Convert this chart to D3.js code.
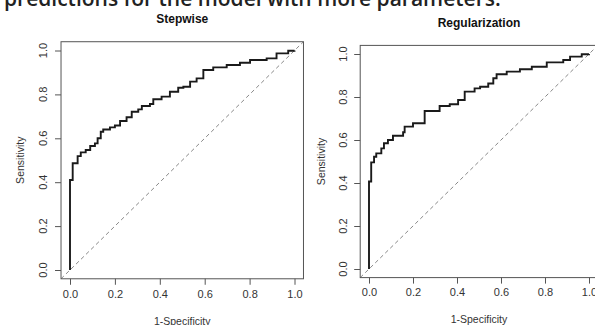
<!DOCTYPE html>
<html>
<head>
<meta charset="utf-8">
<script src="https://cdn.jsdelivr.net/npm/d3@7"></script>
<style>
  html, body { margin: 0; padding: 0; background: #fff; }
  svg { display: block; }
  text { font-family: "Liberation Sans", Arial, sans-serif; }
</style>
</head>
<body>
<svg id="chart" width="595" height="325"></svg>
<script>
// ---------- data ----------
const headerText = "predictions for the model with more parameters.";
const panelTitles = ["Stepwise", "Regularization"];
const xLabel = "1-Specificity";
const yLabel = "Sensitivity";
const tickValues = [0, 0.2, 0.4, 0.6, 0.8, 1.0];
const tickLabels = ["0.0", "0.2", "0.4", "0.6", "0.8", "1.0"];

// ROC vertices (1-specificity, sensitivity), drawn as steps
const stepwiseFPR = [0, 0, 0.012, 0.034, 0.048, 0.07, 0.09, 0.111, 0.123, 0.137, 0.148, 0.178, 0.2, 0.223, 0.252, 0.275, 0.304, 0.32, 0.356, 0.371, 0.408, 0.445, 0.482, 0.505, 0.535, 0.564, 0.594, 0.638, 0.698, 0.757, 0.802, 0.876, 0.92, 0.972, 1];
const stepwiseTPR = [0, 0.41, 0.486, 0.519, 0.536, 0.547, 0.565, 0.577, 0.6, 0.63, 0.64, 0.65, 0.658, 0.679, 0.696, 0.721, 0.732, 0.747, 0.756, 0.778, 0.79, 0.812, 0.83, 0.835, 0.858, 0.873, 0.911, 0.923, 0.934, 0.944, 0.957, 0.964, 0.987, 0.999, 1];

const regFPR = [0, 0, 0.01, 0.023, 0.033, 0.056, 0.068, 0.086, 0.109, 0.155, 0.162, 0.2, 0.253, 0.253, 0.321, 0.367, 0.405, 0.435, 0.48, 0.505, 0.542, 0.565, 0.58, 0.626, 0.686, 0.74, 0.808, 0.883, 0.914, 0.967, 1];
const regTPR = [0, 0.407, 0.496, 0.522, 0.538, 0.561, 0.585, 0.6, 0.62, 0.636, 0.662, 0.678, 0.685, 0.735, 0.758, 0.766, 0.786, 0.825, 0.84, 0.848, 0.863, 0.887, 0.906, 0.918, 0.929, 0.941, 0.961, 0.972, 0.988, 0.999, 1];

// ---------- layout ----------
const svg = d3.select("#chart");

svg.append("text")
  .attr("x", 4).attr("y", 5.5)
  .style("font-family", "'Open Sans', sans-serif")
  .style("font-weight", 600)
  .style("font-size", "21px")
  .attr("fill", "#222")
  .text(headerText);

const panels = [
  { title: panelTitles[0], fpr: stepwiseFPR, tpr: stepwiseTPR,
    x0: 70, x1: 294.5, y0: 270, y1: 50.5, titleY: 22.5, yLabX: 20.5, xLabY: 324.5, tickLabX: 47 },
  { title: panelTitles[1], fpr: regFPR, tpr: regTPR,
    x0: 369, x1: 589, y0: 269, y1: 54, titleY: 27, yLabX: 321, xLabY: 322.5, tickLabX: 347 }
];

panels.forEach((p, i) => {
  const x = d3.scaleLinear().domain([0, 1]).range([p.x0, p.x1]);
  const y = d3.scaleLinear().domain([0, 1]).range([p.y0, p.y1]);
  const bx0 = x(-0.04), bx1 = x(1.04), by0 = y(-0.04), by1 = y(1.04);
  const g = svg.append("g");
  const clipId = "clip" + i;
  g.append("clipPath").attr("id", clipId).append("rect")
    .attr("x", bx0).attr("y", by1).attr("width", bx1 - bx0).attr("height", by0 - by1);

  // diagonal reference
  g.append("line")
    .attr("clip-path", `url(#${clipId})`)
    .attr("x1", x(-0.04)).attr("y1", y(-0.04))
    .attr("x2", x(1.04)).attr("y2", y(1.04))
    .attr("stroke", "#888").attr("stroke-width", 1)
    .attr("stroke-dasharray", "4,3");

  // ROC curve
  const pts = p.fpr.map((f, k) => [f, p.tpr[k]]);
  g.append("path")
    .datum(pts)
    .attr("clip-path", `url(#${clipId})`)
    .attr("fill", "none")
    .attr("stroke", "#1a1a1a")
    .attr("stroke-width", 1.9)
    .attr("stroke-linejoin", "miter")
    .attr("d", d3.line().x(d => x(d[0])).y(d => y(d[1])).curve(d3.curveStepAfter));

  // box
  g.append("rect")
    .attr("x", bx0).attr("y", by1).attr("width", bx1 - bx0).attr("height", by0 - by1)
    .attr("fill", "none").attr("stroke", "#555").attr("stroke-width", 1);

  // x axis
  const xAxis = d3.axisBottom(x).tickValues(tickValues)
    .tickFormat((d, k) => tickLabels[k]).tickSize(6).tickSizeOuter(0).tickPadding(5);
  const xa = g.append("g").attr("transform", `translate(0,${by0})`).call(xAxis);
  xa.select(".domain").remove();
  xa.selectAll(".tick line").attr("stroke", "#555");
  xa.selectAll(".tick text").attr("fill", "#333")
    .style("font-family", "'Liberation Sans', Arial, sans-serif").style("font-size", "11px");

  // y axis
  const yAxis = d3.axisLeft(y).tickValues(tickValues)
    .tickFormat((d, k) => tickLabels[k]).tickSize(6).tickSizeOuter(0);
  const ya = g.append("g").attr("transform", `translate(${bx0},0)`).call(yAxis);
  ya.select(".domain").remove();
  ya.selectAll(".tick line").attr("stroke", "#555");
  ya.selectAll(".tick text").remove();
  g.selectAll(".ylab").data(tickValues).enter().append("text")
    .attr("transform", d => `translate(${p.tickLabX},${y(d)}) rotate(-90)`)
    .attr("text-anchor", "middle")
    .attr("fill", "#333")
    .style("font-size", "11px")
    .text((d, k) => tickLabels[k]);

  // titles and labels
  g.append("text")
    .attr("x", (bx0 + bx1) / 2).attr("y", p.titleY)
    .attr("text-anchor", "middle")
    .style("font-weight", "bold").style("font-size", "12px")
    .attr("fill", "#111")
    .text(p.title);

  g.append("text")
    .attr("x", (bx0 + bx1) / 2).attr("y", p.xLabY)
    .attr("text-anchor", "middle")
    .style("font-size", "10.5px")
    .attr("fill", "#333")
    .text(xLabel);

  g.append("text")
    .attr("transform", `translate(${p.yLabX},${(by0 + by1) / 2}) rotate(-90)`)
    .attr("text-anchor", "middle")
    .attr("dy", "0.35em")
    .style("font-size", "10.5px")
    .attr("fill", "#333")
    .text(yLabel);
});
</script>
</body>
</html>
